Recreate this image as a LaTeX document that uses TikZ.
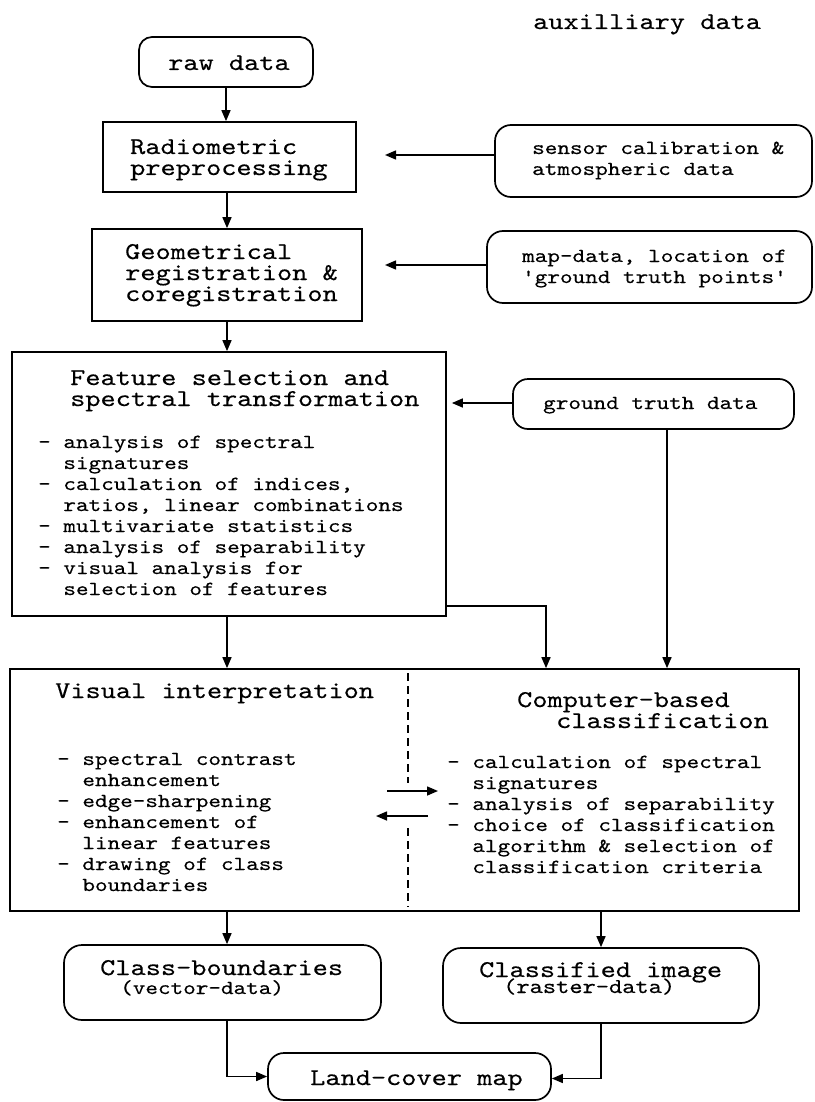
\documentclass[tikz,border=0pt]{standalone}
\usepackage{fontspec}
\newfontfamily\cour{lmmono10-regular.otf}[FakeStretch=1.2,FakeBold=0.3]
\usetikzlibrary{arrows.meta}
\begin{document}
\begin{tikzpicture}[x=1pt,y=-1pt,
  sqbox/.style={draw, inner sep=0pt, line width=1.7pt},
  rbox/.style={sqbox, rounded corners=#1},
  rbox/.default=14pt,
  arr/.style={-{Triangle[length=11pt,width=9pt]}, line width=1.5pt},
  divider/.style={line width=1.5pt, dash pattern=on 8pt off 5pt},
  bigt/.style={anchor=base west, inner sep=0pt, align=left, font=\cour\fontsize{24.1}{21}\selectfont},
  smt/.style={anchor=base west, inner sep=0pt, align=left, font=\cour\fontsize{20}{21}\selectfont}]
\path[use as bounding box] (0,0) rectangle (814,1102);

% ---- main chain of processing steps
\node[rbox=13pt, minimum width=174pt, minimum height=50pt] (raw) at (226,62) {};
\node[sqbox, minimum width=253pt, minimum height=70pt] (rad) at (229.5,157) {};
\node[sqbox, minimum width=270pt, minimum height=92pt] (geo) at (227,275) {};
\node[sqbox, minimum width=434pt, minimum height=264pt] (feat) at (229,484) {};
\node[sqbox, minimum width=789pt, minimum height=242pt] (interp) at (404.5,790) {};
\node[rbox=18pt, minimum width=317pt, minimum height=75pt] (cb) at (222.5,982.5) {};
\node[rbox=18pt, minimum width=316pt, minimum height=75pt] (ci) at (601,985.5) {};
\node[rbox=16pt, minimum width=283pt, minimum height=47pt] (lc) at (409.5,1076.5) {};

% ---- auxiliary data sources
\node[rbox=16pt, minimum width=317pt, minimum height=72pt] (sensor) at (653.5,161) {};
\node[rbox=16pt, minimum width=325pt, minimum height=72pt] (map) at (649.5,267) {};
\node[rbox=15pt, minimum width=281pt, minimum height=50pt] (gt) at (653.5,404) {};

% ---- texts (a multi-line node sits on the baseline of its last line)
\node[bigt] (auxt) at (533,29) {auxilliary data};
\node[bigt] (rawt) at (168,70) {raw data};
\node[bigt] (radt) at (130,175) {Radiometric\\preprocessing};
\node[bigt] (geot) at (125,301) {Geometrical\\registration \&\\coregistration};

\node[smt] (sent) at (532,175) {sensor calibration \&\\atmospheric data};
\node[smt] (mapt) at (522,283) {map-data, location of\\'ground truth points'};
\node[smt] (gtt) at (543,409) {ground truth data};

\node[bigt] (featt) at (70,406) {Feature selection and\\spectral transformation};
\node[smt] (featl) at (38,595) {- analysis of spectral\\
  \phantom{- }signatures\\
  - calculation of indices,\\
  \phantom{- }ratios, linear combinations\\
  - multivariate statistics\\
  - analysis of separability\\
  - visual analysis for\\
  \phantom{- }selection of features};

\node[bigt] (vist) at (55,698) {Visual interpretation};
\node[smt] (visl) at (57,891) {- spectral contrast\\
  \phantom{- }enhancement\\
  - edge-sharpening\\
  - enhancement of\\
  \phantom{- }linear features\\
  - drawing of class\\
  \phantom{- }boundaries};

\node[bigt] (cbt) at (517,728) {Computer-based\\\hspace*{39pt}classification};
\node[smt] (cbl) at (447,873) {- calculation of spectral\\
  \phantom{- }signatures\\
  - analysis of separability\\
  - choice of classification\\
  \phantom{- }algorithm \& selection of\\
  \phantom{- }classification criteria};

\node[bigt] (cbn) at (100,975) {Class-boundaries};
\node[smt] (cbv) at (120,994) {(vector-data)};
\node[bigt] (cin) at (479,977) {Classified image};
\node[smt] (cir) at (503,993) {\fontsize{21}{21}\selectfont(raster-data)};
\node[bigt] (lct) at (310,1085) {Land-cover map};

% ---- divider between visual and computer-based interpretation
\coordinate (d1) at (408,673);
\coordinate (d2) at (408,783);
\coordinate (d3) at (408,828);
\coordinate (d4) at (408,907);
\draw[divider] (d1) -- (d2);
\draw[divider] (d3) -- (d4);
\coordinate (ra0) at (387,791);
\coordinate (ra1) at (438,791);
\coordinate (la0) at (428,816);
\coordinate (la1) at (376,816);
\draw[arr] (ra0) -- (ra1);
\draw[arr] (la0) -- (la1);

% ---- connectors of the main chain
\draw[arr] (raw.south) -- (raw.south |- rad.north);
\draw[arr] ([xshift=-2.5pt]rad.south) -- ([xshift=-2.5pt]rad.south |- geo.north);
\draw[arr] (geo.south) -- (geo.south |- feat.north);
\draw[arr] ([xshift=-2pt]feat.south) -- ([xshift=-2pt]feat.south |- interp.north);
\coordinate (fx) at (546,606);
\draw[arr] (feat.east |- fx) -- (fx) -- (fx |- interp.north);
\draw[arr] ([xshift=4.5pt]interp.south -| cb.north) -- ([xshift=4.5pt]cb.north);
\draw[arr] (interp.south -| ci.north) -- (ci.north);
\draw[arr] ([xshift=4.5pt]cb.south) |- (lc.west);
\draw[arr] (ci.south) |- ([yshift=-2pt]lc.east);

% ---- connectors from the auxiliary data
\coordinate (st) at (385,155);
\coordinate (mt) at (385,265);
\draw[arr] (sensor.west |- st) -- (st);
\draw[arr] (map.west |- mt) -- (mt);
\draw[arr] ([yshift=1pt]gt.west) -- ([xshift=5pt,yshift=1pt]feat.east |- gt.west);
\draw[arr] ([xshift=13.5pt]gt.south) -- ([xshift=13.5pt]gt.south |- interp.north);
\end{tikzpicture}
\end{document}
